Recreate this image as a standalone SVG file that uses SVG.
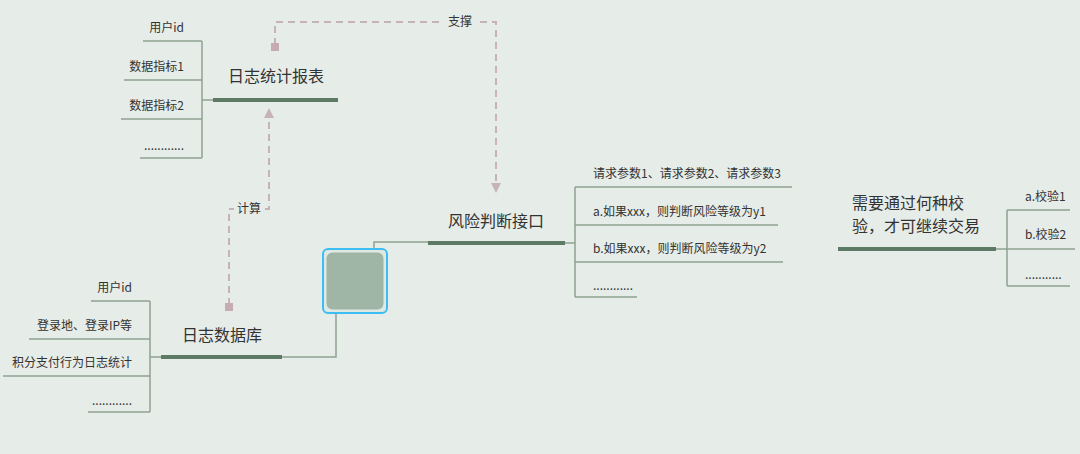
<svg xmlns="http://www.w3.org/2000/svg" width="1080" height="454" viewBox="0 0 1080 454">
<defs>
<style>
.t{font-family:"Noto Sans CJK SC","Liberation Sans",sans-serif;fill:#333;}
.m{font-size:16px;}
.c{font-size:12px;}
.bar{stroke:#5c7a64;stroke-width:4;fill:none;}
.br{stroke:#8ea392;stroke-width:1.5;fill:none;}
.d{stroke:#c6b2b7;stroke-width:2;stroke-dasharray:7,5;fill:none;}
</style>
<marker id="ah" viewBox="0 0 10 10" refX="5" refY="5" markerWidth="5" markerHeight="5" orient="auto">
<path d="M0,0 L10,5 L0,10 z" fill="#c6b2b7"/>
</marker>
</defs>
<rect width="1080" height="454" fill="#e6ece8"/>

<g id="connectors">
<path class="d" d="M275,45 V22 H496 V188" marker-end="url(#ah)"/>
<rect x="271" y="43" width="8" height="8" fill="#c6acb2"/>
<rect x="443" y="14" width="34" height="16" fill="#e6ece8"/>
<text class="t c" x="460" y="26" text-anchor="middle">支撑</text>
<path class="d" d="M229,305 V209 H269 V113" marker-end="url(#ah)"/>
<rect x="225" y="303" width="8" height="8" fill="#c6acb2"/>
<rect x="234" y="201" width="30" height="16" fill="#e6ece8"/>
<text class="t c" x="249" y="213" text-anchor="middle">计算</text>
<path class="br" d="M282,357 H336 V312"/>
<path class="br" d="M374,250 V242 H428"/>
</g>

<g id="node-report">
<line class="bar" x1="213" y1="100" x2="338" y2="100"/>
<text class="t m" x="276" y="82" text-anchor="middle">日志统计报表</text>
<path class="br" d="M213,100 H202 M202,41 V158 M143,41 H202 M124,80 H202 M121,119 H202 M140,158 H202"/>
<text class="t c" x="184" y="32" text-anchor="end">用户id</text>
<text class="t c" x="184" y="71" text-anchor="end">数据指标1</text>
<text class="t c" x="184" y="110" text-anchor="end">数据指标2</text>
<text class="t c" x="184" y="150" text-anchor="end">............</text>
</g>

<g id="node-db">
<line class="bar" x1="161" y1="357" x2="282" y2="357"/>
<text class="t m" x="222" y="341" text-anchor="middle">日志数据库</text>
<path class="br" d="M161,357 H150 M150,301 V412 M91,301 H150 M29,339 H150 M3,376 H150 M88,412 H150"/>
<text class="t c" x="132" y="292" text-anchor="end">用户id</text>
<text class="t c" x="132" y="330" text-anchor="end">登录地、登录IP等</text>
<text class="t c" x="132" y="367" text-anchor="end">积分支付行为日志统计</text>
<text class="t c" x="132" y="405" text-anchor="end">............</text>
</g>

<g id="node-center">
<rect x="323" y="249" width="64" height="64" rx="5" fill="#dfe8e2" stroke="#3dbdf2" stroke-width="2"/>
<rect x="326.5" y="252.5" width="57" height="57" rx="6" fill="#9fb5a5"/>
</g>

<g id="node-risk">
<line class="bar" x1="428" y1="243" x2="565" y2="243"/>
<text class="t m" x="496" y="227" text-anchor="middle">风险判断接口</text>
<path class="br" d="M565,243 H575 M575,187 V297 M575,187 H792 M575,225 H778 M575,262 H783 M575,297 H637"/>
<text class="t c" x="593" y="178">请求参数1、请求参数2、请求参数3</text>
<text class="t c" x="593" y="216">a.如果xxx，则判断风险等级为y1</text>
<text class="t c" x="593" y="253">b.如果xxx，则判断风险等级为y2</text>
<text class="t c" x="593" y="290">............</text>
</g>

<g id="node-check">
<line class="bar" x1="838" y1="249" x2="996" y2="249"/>
<text class="t m" x="852" y="209">需要通过何种校</text>
<text class="t m" x="852" y="232">验，才可继续交易</text>
<path class="br" d="M996,249 H1075 M1007,210 V286 M1007,210 H1070 M1007,286 H1070"/>
<text class="t c" x="1025" y="201">a.校验1</text>
<text class="t c" x="1025" y="239">b.校验2</text>
<text class="t c" x="1025" y="279">...........</text>
</g>
</svg>
